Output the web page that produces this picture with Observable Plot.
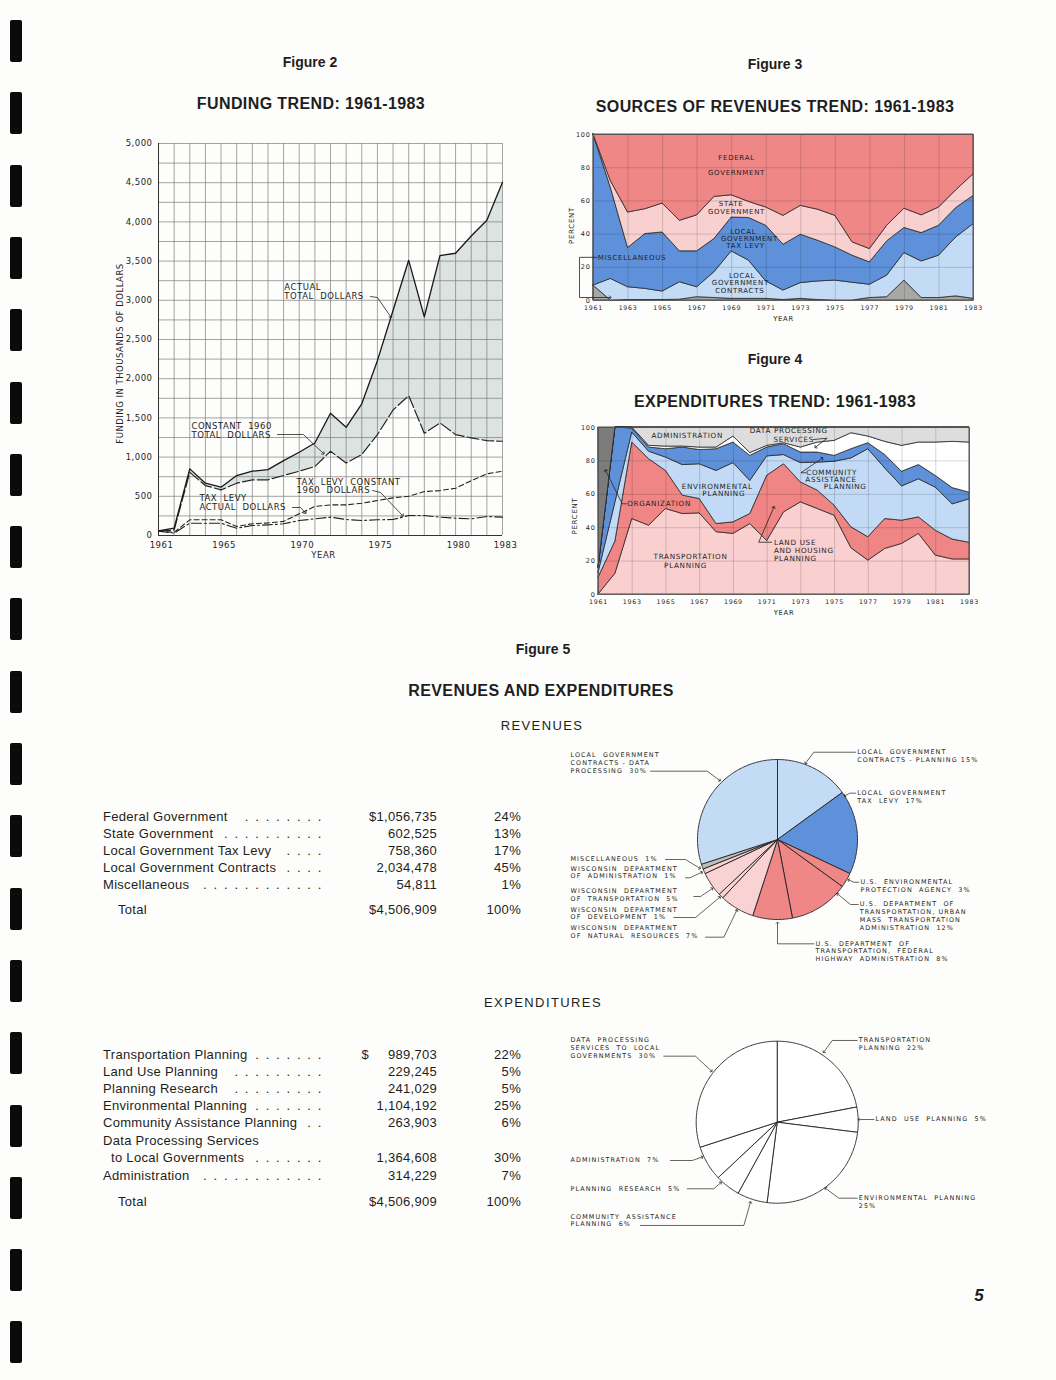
<!DOCTYPE html>
<html>
<head>
<meta charset="utf-8">
<script src="https://cdn.jsdelivr.net/npm/d3@7"></script>
<script src="https://cdn.jsdelivr.net/npm/@observablehq/plot@0.6"></script>
<style>
  body { margin: 0; background: #fdfdfb; }
  #page { position: relative; width: 1056px; height: 1380px; background: #fdfdfb; overflow: hidden;
          font-family: "Liberation Sans", Arial, sans-serif; color: #1e1e1e; }
  .blk { position: absolute; }
  .hole { position: absolute; background: #0b0b0b; border-radius: 2px; }
  .head { position: absolute; transform: translateX(-50%); white-space: nowrap; line-height: 1; }
  .fig { font-weight: bold; font-size: 14px; }
  .ttl { font-weight: bold; font-size: 16px; letter-spacing: 0.4px; }
  .sub { font-size: 13px; letter-spacing: 1.4px; }
  .lab { position: absolute; font-size: 13px; line-height: 1; letter-spacing: 0.3px; white-space: nowrap; }
  .lead { position: absolute; font-size: 13px; line-height: 1; letter-spacing: 1.6px; white-space: pre; text-align: right; }
  .num { position: absolute; font-size: 13px; line-height: 1; white-space: pre; text-align: right; letter-spacing: 0.3px; }
  .fig2 text { letter-spacing: 0.5px; }
  .fig3 text, .fig4 text { letter-spacing: 0.7px; }
  .pie text { letter-spacing: 1.1px; }
</style>
</head>
<body>
<div id="page"></div>
<script>
// ---------------- DATA ----------------
const years = [1961,1962,1963,1964,1965,1966,1967,1968,1969,1970,1971,1972,1973,1974,1975,1976,1977,1978,1979,1980,1981,1982,1983];

// Figure 2 (thousands of dollars)
const actualTotal     = [60, 95, 850, 667, 616, 765, 820, 840, 955, 1062, 1180, 1560, 1380, 1680, 2230, 2870, 3510, 2790, 3570, 3600, 3820, 4020, 4507];
const constantTotal   = [55, 70, 805, 637, 582, 667, 710, 710, 765, 820, 880, 1075, 926, 1032, 1287, 1601, 1784, 1304, 1436, 1287, 1245, 1210, 1202];
const taxLevyActual   = [55, 40, 200, 200, 200, 115, 150, 160, 180, 276, 370, 390, 390, 412, 446, 480, 500, 560, 573, 603, 700, 786, 820];
const taxLevyConstant = [55, 30, 157, 157, 157, 93, 127, 136, 149, 191, 212, 234, 204, 191, 200, 204, 255, 255, 234, 221, 212, 242, 234];
const fig2XTicks = [1961, 1965, 1970, 1975, 1980, 1983];
const fig2YTicks = [0, 500, 1000, 1500, 2000, 2500, 3000, 3500, 4000, 4500, 5000];
const fig2Grid = [0,250,500,750,1000,1250,1500,1750,2000,2250,2500,2750,3000,3250,3500,3750,4000,4250,4500,4750,5000];

// Figure 3 (percent of revenues)
const revLayers   = ["Miscellaneous", "Local Government Contracts", "Local Government Tax Levy", "State Government", "Federal Government"];
const revColors   = ["#a7a8a6", "#c3dbf5", "#5f91da", "#f8d0d0", "#f08787"];
const misc3       = [9, 0, 0.3, 0.3, 0.3, 0.5, 2, 1.5, 1, 1, 1, 0.3, 1, 0.3, 0, 0, 1.5, 2, 12, 1.5, 1.5, 2.5, 1];
const contracts3  = [0, 13, 7.7, 6.7, 5.1, 10.5, 6, 15.5, 28.6, 23, 10.5, 5.7, 9.5, 11.2, 12, 10.7, 8, 13, 16.6, 22, 25.5, 35.5, 45];
const taxLevy3    = [91, 55, 23.6, 33, 35.6, 18.6, 21.6, 20, 20.4, 25.7, 33.5, 27.6, 29.1, 24.5, 20, 16.3, 13.5, 20.6, 15.1, 17.1, 18, 17.7, 17];
const state3      = [0, 4, 21.4, 15, 17.4, 18.4, 21.7, 25.4, 13.4, 9.7, 11, 17.4, 17.4, 18.7, 19, 8, 8, 9.4, 11.6, 10.7, 11, 10.7, 13];
const federal3    = [0, 28, 47, 45, 41.6, 52, 48.7, 37.6, 36.6, 40.6, 44, 49, 43, 45.3, 49, 65, 69, 55, 44.7, 48.7, 44, 33.6, 24];

// Figure 4 (percent of expenditures)
const expLayers      = ["Transportation Planning", "Land Use and Housing Planning", "Environmental Planning", "Community Assistance Planning", "Data Processing Services", "Administration", "Organization"];
const expColors      = ["#f9cfcf", "#ef8585", "#c2daf5", "#5f91da", "#ffffff", "#dcdddc", "#7c7c7c"];
const transport4     = [0, 12.4, 45.2, 41.2, 51.2, 48.2, 48.6, 37.3, 36.3, 42.2, 32, 49.2, 55.2, 51.2, 47.2, 27.7, 20.3, 27.3, 30.3, 36.3, 23.3, 21, 21];
const landUse4       = [10, 19.3, 45.8, 39.8, 22.8, 11, 8.6, 4.9, 6.9, 6, 39.1, 28.8, 11.9, 11, 6, 12.5, 14, 17.9, 13.9, 9.9, 14.9, 11.9, 10];
const environmental4 = [3, 23.3, 6, 4.5, 8, 18.3, 20.8, 31.8, 35.5, 19.8, 11.6, 5.5, 11.6, 16.8, 26.3, 41.3, 52.7, 30.3, 20.5, 22.8, 25.8, 21.1, 26];
const community4     = [3, 45, 2.4, 2.5, 5, 10.5, 8.5, 13, 12.3, 15, 5.3, 6.5, 6.3, 6, 3.5, 5.5, 3.6, 8, 8.8, 8.5, 7, 9.7, 4];
const dataProc4      = [0, 0, 0.6, 1, 1.6, 0.6, 1.5, 1, 3.6, 1.7, 1, 0.6, 3, 6, 9, 9.6, 4, 7.9, 15.5, 13.5, 20, 27.7, 30];
const admin4         = [0, 0, 0, 11, 11.4, 11.4, 12, 12, 5.4, 15.3, 11, 9.4, 12, 9, 8, 3.4, 5.4, 8.6, 11, 9, 9, 8.6, 9];
const organization4  = [84, 0, 0, 0, 0, 0, 0, 0, 0, 0, 0, 0, 0, 0, 0, 0, 0, 0, 0, 0, 0, 0, 0];
const oddYears = [1961,1963,1965,1967,1969,1971,1973,1975,1977,1979,1981,1983];
const pctTicks = [0, 20, 40, 60, 80, 100];

// Figure 5 tables
const revLabels   = ["Federal Government", "State Government", "Local Government Tax Levy", "Local Government Contracts", "Miscellaneous"];
const revAmounts  = ["$1,056,735", "602,525", "758,360", "2,034,478", "54,811"];
const revPercents = ["24%", "13%", "17%", "45%", "1%"];
const expLabels   = ["Transportation Planning", "Land Use Planning", "Planning Research", "Environmental Planning", "Community Assistance Planning", "Data Processing Services", "to Local Governments", "Administration"];
const expAmounts  = ["$ 989,703", "229,245", "241,029", "1,104,192", "263,903", "", "1,364,608", "314,229"];
const expPercents = ["22%", "5%", "5%", "25%", "6%", "", "30%", "7%"];
const totalAmount = "$4,506,909";
const totalPercent = "100%";

// Figure 5 pies (clockwise from 12 o'clock)
const revPieNames  = ["LG Contracts - Planning", "LG Tax Levy", "U.S. EPA", "U.S. DOT UMTA", "U.S. DOT FHWA", "WI DNR", "WI Development", "WI DOT", "WI Administration", "Miscellaneous", "LG Contracts - Data Processing"];
const revPieGroups = ["contracts", "levy", "federal", "federal", "federal", "state", "state", "state", "state", "misc", "contracts"];
const revPiePcts   = [15, 17, 3, 12, 8, 7, 1, 5, 1, 1, 30];
const revPieGroupDomain = ["contracts", "levy", "federal", "state", "misc"];
const revPieGroupColors = ["#c3dbf5", "#5f91da", "#f08787", "#f9d3d3", "#bdbdbb"];
const expPieNames = ["Transportation Planning", "Land Use Planning", "Environmental Planning", "Community Assistance Planning", "Planning Research", "Administration", "Data Processing"];
const expPiePcts  = [22, 5, 25, 6, 5, 7, 30];

// ---------------- HELPERS ----------------
const page = document.getElementById("page");
function place(node, left, top, width) {
  const d = document.createElement("div");
  d.className = "blk";
  d.style.left = left + "px"; d.style.top = top + "px";
  if (width) d.style.width = width + "px";
  d.appendChild(node); page.appendChild(d); return d;
}
function head(text, cls, cx, top) {
  const d = document.createElement("div");
  d.className = "head " + cls; d.textContent = text;
  d.style.left = cx + "px"; d.style.top = top + "px";
  page.appendChild(d);
}
function leaderRows(list) {
  return list.flatMap((l, i) => l.map(([x, y]) => ({id: i, x, y})));
}
const textStyle = {fontFamily: "'DejaVu Sans', sans-serif", background: "transparent", overflow: "visible", color: "#1e1e1e"};

// binder holes
for (let i = 0; i < 19; i++) {
  const h = document.createElement("div");
  h.className = "hole";
  h.style.left = "10px"; h.style.width = "12px";
  h.style.top = (20 + i * 72.3) + "px"; h.style.height = "42px";
  page.appendChild(h);
}

// headings
head("Figure 2", "fig", 310, 55);
head("FUNDING TREND: 1961-1983", "ttl", 311, 96);
head("Figure 3", "fig", 775, 57);
head("SOURCES OF REVENUES TREND: 1961-1983", "ttl", 775, 99);
head("Figure 4", "fig", 775, 352);
head("EXPENDITURES TREND: 1961-1983", "ttl", 775, 394);
head("Figure 5", "fig", 543, 642);
head("REVENUES AND EXPENDITURES", "ttl", 541, 683);
head("REVENUES", "sub", 542, 719);
head("EXPENDITURES", "sub", 543, 996);
const pn = document.createElement("div");
pn.className = "head"; pn.textContent = "5";
pn.style.cssText += "left:979px;top:1287px;font-size:17px;font-weight:bold;font-style:italic;";
page.appendChild(pn);

// ---------------- FIGURE 2 ----------------
const fig2Rows = years.map((year, i) => ({year, actual: actualTotal[i], constant: constantTotal[i], levyActual: taxLevyActual[i], levyConstant: taxLevyConstant[i]}));
const fig2Notes = [
  {x: 1969.05, y: 3106, text: "ACTUAL\nTOTAL  DOLLARS"},
  {x: 1963.11, y: 1339, text: "CONSTANT  1960\nTOTAL  DOLLARS"},
  {x: 1969.83, y: 625, text: "TAX  LEVY  CONSTANT\n1960  DOLLARS"},
  {x: 1963.62, y: 415, text: "TAX  LEVY\nACTUAL  DOLLARS"}
];
const fig2Leaders = leaderRows([
  [[1974.56, 3048], [1975.0, 3036], [1975.85, 2790]],
  [[1968.61, 1288], [1970.27, 1288], [1971.55, 1046]],
  [[1974.69, 574], [1975.2, 548], [1976.61, 255]],
  [[1969.57, 357], [1970.08, 357], [1970.4, 290]]
]);
const fig2 = Plot.plot({
  width: 480, height: 440, marginLeft: 58, marginRight: 78, marginTop: 13, marginBottom: 35,
  className: "fig2", style: textStyle,
  x: {domain: [1961, 1983]},
  y: {domain: [0, 5000]},
  marks: [
    Plot.areaY(fig2Rows, {x: "year", y1: "constant", y2: "actual", fill: "#dde3e1"}),
    Plot.ruleY(fig2Grid, {stroke: "#7c7c7c", strokeWidth: 0.7}),
    Plot.ruleX(years, {stroke: "#7c7c7c", strokeWidth: 0.7}),
    Plot.ruleX([1961], {stroke: "#333", strokeWidth: 1}),
    Plot.ruleY([0], {stroke: "#333", strokeWidth: 1}),
    Plot.line(fig2Rows, {x: "year", y: "levyConstant", stroke: "#222", strokeWidth: 1.1, strokeDasharray: "10,3,2,3"}),
    Plot.line(fig2Rows, {x: "year", y: "levyActual", stroke: "#222", strokeWidth: 1.1, strokeDasharray: "5,3"}),
    Plot.line(fig2Rows, {x: "year", y: "constant", stroke: "#222", strokeWidth: 1.2, strokeDasharray: "12,3"}),
    Plot.line(fig2Rows, {x: "year", y: "actual", stroke: "#1a1a1a", strokeWidth: 1.3}),
    Plot.line(fig2Leaders, {x: "x", y: "y", z: "id", stroke: "#222", strokeWidth: 0.8, markerEnd: "arrow"}),
    Plot.text(fig2Notes, {x: "x", y: "y", text: "text", textAnchor: "start", lineAnchor: "middle", fontSize: 8.5, lineHeight: 1.0, fill: "#1e1e1e"}),
    Plot.axisX({ticks: fig2XTicks, tickSize: 0, tickPadding: 6, tickFormat: d => String(d), fontSize: 8.5, label: null, dx: 3}),
    Plot.axisY({ticks: fig2YTicks, tickSize: 0, tickPadding: 6, tickFormat: d3.format(","), fontSize: 8.5, label: null}),
    Plot.text(["YEAR"], {frameAnchor: "bottom", lineAnchor: "middle", textAnchor: "middle", dy: 20, dx: -7, text: d => d, fontSize: 8.5}),
    Plot.text(["FUNDING IN THOUSANDS OF DOLLARS"], {frameAnchor: "left", textAnchor: "middle", lineAnchor: "middle", dx: -38, dy: 14, rotate: -90, text: d => d, fontSize: 8.5})
  ]
});
place(fig2, 100, 130, 480);

// ---------------- FIGURE 3 ----------------
const rev3Series = [misc3, contracts3, taxLevy3, state3, federal3];
const fig3Rows = revLayers.flatMap((layer, k) => years.map((year, i) => ({layer, year, value: rev3Series[k][i]})));
const fig3Notes = [
  {x: 1969.28, y: 85.7, text: "FEDERAL"}, {x: 1969.28, y: 76.8, text: "GOVERNMENT"},
  {x: 1968.97, y: 58.4, text: "STATE"}, {x: 1969.28, y: 53.7, text: "GOVERNMENT"},
  {x: 1969.67, y: 41.6, text: "LOCAL"}, {x: 1970.03, y: 37.2, text: "GOVERNMENT"}, {x: 1969.8, y: 33.2, text: "TAX LEVY"},
  {x: 1969.6, y: 15.1, text: "LOCAL"}, {x: 1969.5, y: 10.7, text: "GOVERNMENT"}, {x: 1969.47, y: 5.6, text: "CONTRACTS"}
];
const fig3Leaders = leaderRows([
  [[1961.2, 26], [1960.19, 26], [1960.19, 1.8], [1961.98, 1.8]]
]);
const fig3 = Plot.plot({
  width: 450, height: 220, marginLeft: 53, marginRight: 17, marginTop: 14, marginBottom: 40,
  className: "fig3", style: textStyle,
  x: {domain: [1961, 1983]},
  y: {domain: [0, 100]},
  color: {domain: revLayers, range: revColors},
  marks: [
    Plot.areaY(fig3Rows, {x: "year", y: "value", z: "layer", fill: "layer", order: revLayers, stroke: "#2a2a2a", strokeWidth: 0.8}),
    Plot.ruleX(oddYears, {stroke: "#000", strokeOpacity: 0.22, strokeWidth: 0.7}),
    Plot.ruleY(pctTicks, {stroke: "#000", strokeOpacity: 0.22, strokeWidth: 0.7}),
    Plot.frame({stroke: "#555", strokeWidth: 0.8}),
    Plot.text(fig3Notes, {x: "x", y: "y", text: "text", fontSize: 7, fill: "#1e1e1e"}),
    Plot.line(fig3Leaders, {x: "x", y: "y", z: "id", stroke: "#222", strokeWidth: 0.8, markerEnd: "arrow"}),
    Plot.text(["MISCELLANEOUS"], {x: 1961.25, y: 26, text: d => d, textAnchor: "start", fontSize: 7, fill: "#1e1e1e"}),
    Plot.axisX({ticks: oddYears, tickSize: 0, tickPadding: 5, tickFormat: d => String(d), fontSize: 6.3, label: null}),
    Plot.axisY({ticks: pctTicks, tickSize: 0, tickPadding: 3, fontSize: 6.5, label: null}),
    Plot.text(["YEAR"], {frameAnchor: "bottom", lineAnchor: "middle", textAnchor: "middle", dy: 18, text: d => d, fontSize: 6.8}),
    Plot.text(["PERCENT"], {frameAnchor: "left", textAnchor: "middle", lineAnchor: "middle", dx: -22, dy: 8, rotate: -90, text: d => d, fontSize: 7})
  ]
});
place(fig3, 540, 120, 450);

// ---------------- FIGURE 4 ----------------
const exp4Series = [transport4, landUse4, environmental4, community4, dataProc4, admin4, organization4];
const fig4Rows = expLayers.flatMap((layer, k) => years.map((year, i) => ({layer, year, value: exp4Series[k][i]})));
const fig4Notes = [
  {x: 1966.26, y: 95.2, text: "ADMINISTRATION", a: "middle"},
  {x: 1972.28, y: 97.8, text: "DATA PROCESSING", a: "middle"},
  {x: 1972.58, y: 92.8, text: "SERVICES", a: "middle"},
  {x: 1974.83, y: 72.9, text: "COMMUNITY", a: "middle"},
  {x: 1974.79, y: 68.7, text: "ASSISTANCE", a: "middle"},
  {x: 1975.63, y: 64.5, text: "PLANNING", a: "middle"},
  {x: 1968.04, y: 64.7, text: "ENVIRONMENTAL", a: "middle"},
  {x: 1968.43, y: 60.3, text: "PLANNING", a: "middle"},
  {x: 1962.7, y: 54.3, text: "ORGANIZATION", a: "start"},
  {x: 1971.4, y: 31.3, text: "LAND USE", a: "start"},
  {x: 1971.4, y: 26.3, text: "AND HOUSING", a: "start"},
  {x: 1971.4, y: 21.7, text: "PLANNING", a: "start"},
  {x: 1966.46, y: 22.4, text: "TRANSPORTATION", a: "middle"},
  {x: 1966.16, y: 17.4, text: "PLANNING", a: "middle"}
];
const fig4Leaders = leaderRows([
  [[1973.75, 92.8], [1974.56, 93.6], [1973.87, 88.2]],
  [[1973.3, 72.9], [1973.0, 72.9], [1974.27, 81.6]],
  [[1962.65, 54.3], [1962.41, 54.3], [1961.42, 74.3]],
  [[1971.26, 31.3], [1970.5, 31.3], [1971.4, 52.3]]
]);
const fig4 = Plot.plot({
  width: 450, height: 220, marginLeft: 58, marginRight: 21, marginTop: 17, marginBottom: 36,
  className: "fig4", style: textStyle,
  x: {domain: [1961, 1983]},
  y: {domain: [0, 100]},
  color: {domain: expLayers, range: expColors},
  marks: [
    Plot.areaY(fig4Rows, {x: "year", y: "value", z: "layer", fill: "layer", order: expLayers, stroke: "#2a2a2a", strokeWidth: 0.8}),
    Plot.ruleX(oddYears, {stroke: "#000", strokeOpacity: 0.22, strokeWidth: 0.7}),
    Plot.ruleY(pctTicks, {stroke: "#000", strokeOpacity: 0.22, strokeWidth: 0.7}),
    Plot.frame({stroke: "#555", strokeWidth: 0.8}),
    Plot.text(fig4Notes.filter(d => d.a === "middle"), {x: "x", y: "y", text: "text", fontSize: 7.2, fill: "#1e1e1e"}),
    Plot.text(fig4Notes.filter(d => d.a === "start"), {x: "x", y: "y", text: "text", textAnchor: "start", fontSize: 7.2, fill: "#1e1e1e"}),
    Plot.line(fig4Leaders, {x: "x", y: "y", z: "id", stroke: "#222", strokeWidth: 0.8, markerEnd: "arrow"}),
    Plot.axisX({ticks: oddYears, tickSize: 0, tickPadding: 5, tickFormat: d => String(d), fontSize: 6.3, label: null}),
    Plot.axisY({ticks: pctTicks, tickSize: 0, tickPadding: 3, fontSize: 6.5, label: null}),
    Plot.text(["YEAR"], {frameAnchor: "bottom", lineAnchor: "middle", textAnchor: "middle", dy: 18, text: d => d, fontSize: 6.8}),
    Plot.text(["PERCENT"], {frameAnchor: "left", textAnchor: "middle", lineAnchor: "middle", dx: -24, dy: 5, rotate: -90, text: d => d, fontSize: 7})
  ]
});
place(fig4, 540, 410, 450);

// ---------------- PIES ----------------
function pieRows(names, pcts, groups) {
  let cum = 0; const rows = [];
  names.forEach((name, i) => {
    const a0 = cum / 100 * 2 * Math.PI; cum += pcts[i];
    const a1 = cum / 100 * 2 * Math.PI;
    const group = groups ? groups[i] : "all";
    const steps = Math.max(2, Math.ceil((a1 - a0) / (Math.PI / 180)));
    rows.push({name, group, x: 0, y: 0});
    for (let k = 0; k <= steps; k++) {
      const a = a0 + (a1 - a0) * k / steps;
      rows.push({name, group, x: Math.sin(a), y: Math.cos(a)});
    }
    rows.push({name, group, x: 0, y: 0});
  });
  return rows;
}
const revPieNotes = [
  {x: -2.5875, y: 1.094, text: "LOCAL  GOVERNMENT\nCONTRACTS - DATA\nPROCESSING  30%"},
  {x: 0.996, y: 1.131, text: "LOCAL  GOVERNMENT\nCONTRACTS - PLANNING 15%"},
  {x: 0.996, y: 0.6225, text: "LOCAL  GOVERNMENT\nTAX  LEVY  17%"},
  {x: 1.0375, y: -0.4875, text: "U.S.  ENVIRONMENTAL\nPROTECTION  AGENCY  3%"},
  {x: 1.029, y: -0.769, text: "U.S.  DEPARTMENT  OF\nTRANSPORTATION, URBAN\nMASS  TRANSPORTATION\nADMINISTRATION  12%"},
  {x: 0.475, y: -1.26, text: "U.S.  DEPARTMENT  OF\nTRANSPORTATION,  FEDERAL\nHIGHWAY  ADMINISTRATION  8%"},
  {x: -2.5875, y: -0.206, text: "MISCELLANEOUS  1%"},
  {x: -2.5875, y: -0.3225, text: "WISCONSIN  DEPARTMENT\nOF  ADMINISTRATION  1%"},
  {x: -2.5875, y: -0.6025, text: "WISCONSIN  DEPARTMENT\nOF  TRANSPORTATION  5%"},
  {x: -2.5875, y: -0.835, text: "WISCONSIN  DEPARTMENT\nOF  DEVELOPMENT  1%"},
  {x: -2.5875, y: -1.069, text: "WISCONSIN  DEPARTMENT\nOF  NATURAL  RESOURCES  7%"}
];
const revPieLeaders = leaderRows([
  [[-1.5875, 0.854], [-0.879, 0.854], [-0.721, 0.7375]],
  [[0.975, 1.091], [0.454, 1.091], [0.35, 0.954]],
  [[0.975, 0.579], [0.904, 0.579], [0.84, 0.545]],
  [[1.016, -0.534], [0.954, -0.534], [0.8875, -0.504]],
  [[1.009, -0.8125], [0.9125, -0.8125], [0.75, -0.68]],
  [[0.454, -1.304], [0, -1.304], [0, -1.04]],
  [[-1.4, -0.25], [-1.15, -0.25], [-0.97, -0.36]],
  [[-1.15, -0.479], [-1.096, -0.479], [-0.945, -0.409]],
  [[-1.046, -0.7125], [-0.9625, -0.7125], [-0.815, -0.613]],
  [[-1.296, -0.975], [-1.025, -0.975], [-0.721, -0.721]],
  [[-0.9, -1.221], [-0.671, -1.221], [-0.508, -0.884]]
]);
const pie1 = Plot.plot({
  width: 430, height: 235, margin: 0,
  className: "pie", style: textStyle,
  x: {domain: [-2.7125, 2.6625], axis: null},
  y: {domain: [-1.7, 1.2375], axis: null},
  color: {domain: revPieGroupDomain, range: revPieGroupColors},
  marks: [
    Plot.line(pieRows(revPieNames, revPiePcts, revPieGroups), {x: "x", y: "y", z: "name", fill: "group", stroke: "#222", strokeWidth: 0.9}),
    Plot.line(revPieLeaders, {x: "x", y: "y", z: "id", stroke: "#222", strokeWidth: 0.7, markerEnd: "arrow"}),
    Plot.text(revPieNotes, {x: "x", y: "y", text: "text", textAnchor: "start", lineAnchor: "top", fontSize: 6.4, lineHeight: 1.2, fill: "#1e1e1e"})
  ]
});
place(pie1, 560, 740, 430);

const expPieNotes = [
  {x: -2.552, y: 1.052, text: "DATA  PROCESSING\nSERVICES  TO  LOCAL\nGOVERNMENTS  30%"},
  {x: 1.007, y: 1.052, text: "TRANSPORTATION\nPLANNING  22%"},
  {x: 1.2136, y: 0.0765, text: "LAND  USE  PLANNING  5%"},
  {x: 1.007, y: -0.895, text: "ENVIRONMENTAL  PLANNING\n25%"},
  {x: -2.552, y: -0.43, text: "ADMINISTRATION  7%"},
  {x: -2.552, y: -0.779, text: "PLANNING  RESEARCH  5%"},
  {x: -2.552, y: -1.125, text: "COMMUNITY  ASSISTANCE\nPLANNING  6%"}
];
const expPieLeaders = leaderRows([
  [[-1.4, 0.815], [-1.009, 0.815], [-0.81, 0.63]],
  [[0.988, 1.009], [0.679, 1.009], [0.575, 0.864]],
  [[1.193, 0.033], [1.007, 0.033]],
  [[0.988, -0.938], [0.76, -0.938], [0.596, -0.815]],
  [[-1.317, -0.473], [-1.049, -0.473], [-0.925, -0.43]],
  [[-1.111, -0.822], [-0.783, -0.822], [-0.696, -0.746]],
  [[-1.688, -1.275], [-0.412, -1.275], [-0.33, -0.988]]
]);
const pie2 = Plot.plot({
  width: 430, height: 215, margin: 0,
  className: "pie", style: textStyle,
  x: {domain: [-2.675, 2.633], axis: null},
  y: {domain: [-1.4605, 1.1938], axis: null},
  marks: [
    Plot.line(pieRows(expPieNames, expPiePcts), {x: "x", y: "y", z: "name", fill: "#ffffff", stroke: "#222", strokeWidth: 0.9}),
    Plot.line(expPieLeaders, {x: "x", y: "y", z: "id", stroke: "#222", strokeWidth: 0.7, markerEnd: "arrow"}),
    Plot.text(expPieNotes, {x: "x", y: "y", text: "text", textAnchor: "start", lineAnchor: "top", fontSize: 6.4, lineHeight: 1.2, fill: "#1e1e1e"})
  ]
});
place(pie2, 560, 1025, 430);

// ---------------- TABLES ----------------
const LEAD_END = 323;
const probe = document.createElement("span");
probe.className = "lead"; probe.style.visibility = "hidden"; probe.textContent = " .".repeat(20);
page.appendChild(probe);
const pairW = probe.getBoundingClientRect().width / 20;
probe.remove();

function tableRow(cy, label, amount, pct, opts = {}) {
  const left = 103 + (opts.indent || 0);
  const top = cy - 7;
  const l = document.createElement("div");
  l.className = "lab"; l.textContent = label;
  l.style.left = left + "px"; l.style.top = top + "px";
  page.appendChild(l);
  if (opts.dots !== false) {
    const labW = l.getBoundingClientRect().width;
    const start = left + labW + 2;
    const n = Math.floor((LEAD_END - start) / pairW);
    if (n > 0) {
      const s = document.createElement("div");
      s.className = "lead"; s.textContent = " .".repeat(n);
      s.style.right = (1056 - LEAD_END) + "px"; s.style.top = top + "px";
      page.appendChild(s);
    }
  }
  if (amount) {
    const a = document.createElement("div"); a.className = "num";
    a.textContent = amount.replace("$ ", "$\u2007\u2007 ");
    a.style.right = (1056 - 437) + "px"; a.style.top = top + "px";
    page.appendChild(a);
  }
  if (pct) {
    const p = document.createElement("div"); p.className = "num";
    p.textContent = pct;
    p.style.right = (1056 - 521) + "px"; p.style.top = top + "px";
    page.appendChild(p);
  }
}
revLabels.forEach((lab, i) => tableRow(816.5 + i * 17.1, lab, revAmounts[i], revPercents[i]));
tableRow(910, "Total", totalAmount, totalPercent, {indent: 15, dots: false});
const expY = [1055, 1072, 1089, 1106, 1123.3, 1140.7, 1158.3, 1175.7];
expLabels.forEach((lab, i) => tableRow(expY[i], lab, expAmounts[i], expPercents[i],
  {indent: lab.startsWith("to ") ? 8 : 0, dots: lab !== "Data Processing Services"}));
tableRow(1202, "Total", totalAmount, totalPercent, {indent: 15, dots: false});
</script>
</body>
</html>
